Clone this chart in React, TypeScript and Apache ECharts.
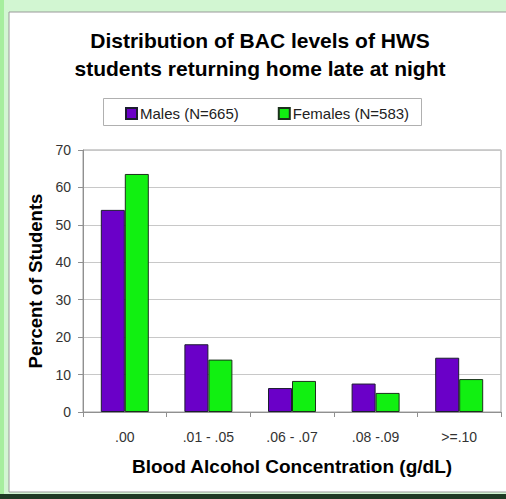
import React, { useEffect, useRef } from "react";
import * as echarts from "echarts";

const categories = [".00", ".01 - .05", ".06 - .07", ".08 -.09", ">=.10"];
const males = [54, 18.1, 6.4, 7.6, 14.5];
const females = [63.6, 14, 8.3, 5.1, 8.8];
const seriesNames = ["Males (N=665)", "Females (N=583)"];
const yTicks = { min: 0, max: 70, interval: 10 };

export default function App() {
  const ref = useRef<HTMLDivElement>(null);
  useEffect(() => {
    document.body.style.margin = "0";
    const chart = echarts.init(ref.current!, null, { renderer: "svg" });
    const font = "Liberation Sans, Arial, sans-serif";
    chart.setOption({
      animation: false,
      backgroundColor: "#d2f6d2",
      textStyle: { fontFamily: font },
      graphic: [
        { type: "rect", shape: { x: 0, y: 0, width: 4, height: 499 }, style: { fill: "#a6ee9e" }, silent: true, z: -10 },
        { type: "rect", shape: { x: 9, y: 12, width: 510, height: 480 }, style: { fill: "#ffffff", stroke: "#9a9a9a", lineWidth: 1 }, silent: true, z: -10 },
        { type: "rect", shape: { x: 0, y: 494, width: 506, height: 5 }, style: { fill: "#1f3a24" }, silent: true, z: -10 },
        { type: "rect", shape: { x: 103.5, y: 98.5, width: 318, height: 27 }, style: { fill: "#ffffff", stroke: "#b0b0b0", lineWidth: 1 }, silent: true, z: -5 },
      ],
      title: {
        text: "Distribution of BAC levels of HWS\nstudents returning home late at night",
        left: 255,
        top: 21,
        textAlign: "center",
        textStyle: { fontSize: 21, fontWeight: "bold", color: "#000", lineHeight: 28.5, fontFamily: font },
      },
      legend: {
        left: 125,
        top: 106,
        padding: 0,
        itemWidth: 11,
        itemHeight: 11,
        itemGap: 39,
        icon: "rect",
        textStyle: { fontSize: 15, color: "#222", padding: [0, 0, 0, -2], fontFamily: font },
        data: seriesNames,
      },
      grid: {
        left: 83,
        right: 5,
        top: 150,
        bottom: 87,
        show: true,
        borderColor: "#a0a0a0",
        borderWidth: 1,
        backgroundColor: "transparent",
        containLabel: false,
      },
      xAxis: {
        type: "category",
        data: categories,
        boundaryGap: true,
        axisLine: { lineStyle: { color: "#909090" } },
        axisTick: { show: true, alignWithLabel: false, length: 5, lineStyle: { color: "#909090" } },
        axisLabel: { fontSize: 14, color: "#333", margin: 18, fontFamily: font },
        name: "Blood Alcohol Concentration (g/dL)",
        nameLocation: "middle",
        nameGap: 45,
        nameTextStyle: { fontSize: 19, fontWeight: "bold", color: "#000", fontFamily: font },
      },
      yAxis: {
        type: "value",
        min: yTicks.min,
        max: yTicks.max,
        interval: yTicks.interval,
        axisLine: { show: true, lineStyle: { color: "#909090" } },
        axisTick: { show: true, length: 5, lineStyle: { color: "#909090" } },
        axisLabel: { fontSize: 14, color: "#333", margin: 12, fontFamily: font },
        splitLine: { show: true, lineStyle: { color: "#c8c8c8" } },
        name: "Percent of Students",
        nameLocation: "middle",
        nameRotate: 90,
        nameGap: 33,
        nameTextStyle: { fontSize: 18.5, fontWeight: "bold", color: "#000", fontFamily: font },
      },
      series: [
        {
          name: seriesNames[0],
          type: "bar",
          data: males,
          barWidth: 24,
          barGap: "0%",
          itemStyle: { color: "#6a00c8", borderColor: "#1c1c30", borderWidth: 1 },
        },
        {
          name: seriesNames[1],
          type: "bar",
          data: females,
          barWidth: 24,
          barGap: "0%",
          itemStyle: { color: "#11f011", borderColor: "#1c301c", borderWidth: 1 },
        },
      ],
    });
    return () => chart.dispose();
  }, []);
  return <div ref={ref} style={{ width: 506, height: 499 }} />;
}
